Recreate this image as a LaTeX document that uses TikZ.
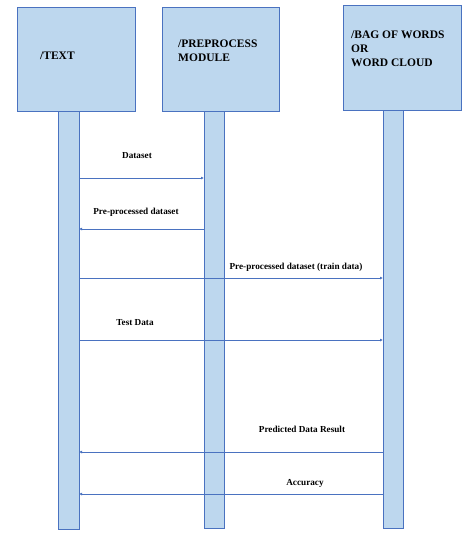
\documentclass[tikz,border=0pt]{standalone}
\usepackage{fontspec}
\setmainfont{Liberation Serif}
\usetikzlibrary{arrows.meta}
\definecolor{boxfill}{HTML}{BDD7EE}
\definecolor{boxline}{HTML}{4A72C0}
\definecolor{msgline}{HTML}{4A72C0}
\tikzset{
  actor/.style={draw=boxline, fill=boxfill, line width=0.8pt},
  life/.style={draw=boxline, fill=boxfill, line width=0.8pt},
  msg/.style={draw=msgline, line width=0.7pt, -{Latex[length=3pt,width=3pt]}},
  boxtext/.style={font=\bfseries\fontsize{11.5}{14}\selectfont, align=left, anchor=north west, inner sep=0pt},
  lbl/.style={font=\bfseries\fontsize{9.2}{10}\selectfont, inner sep=0pt}
}
\begin{document}
\begin{tikzpicture}[x=1pt,y=-1pt]
\useasboundingbox (0,0) rectangle (468,538);
% actor boxes
\path[actor] (17,7) rectangle (135,111);
\path[actor] (162,7) rectangle (279,111);
\path[actor] (343,5) rectangle (461,110);
\node[boxtext] (t1) at (40,52) {/TEXT};
\node[boxtext] (t2) at (178,40) {/PREPROCESS\\MODULE};
\node[boxtext] (t3) at (351,31) {/BAG OF WORDS\\OR\\WORD CLOUD};
% lifelines
\path[life] (58,111) rectangle (79,529);
\path[life] (204,111) rectangle (224,528);
\path[life] (383,110) rectangle (403,528);
\coordinate (a1) at (79,178);  \coordinate (b1) at (204,178);
\coordinate (a2) at (79,229);  \coordinate (b2) at (204,229);
\coordinate (a3) at (79,278);  \coordinate (c3) at (383,278);
\coordinate (a4) at (79,340);  \coordinate (c4) at (383,340);
\coordinate (a5) at (79,452);  \coordinate (c5) at (383,452);
\coordinate (a6) at (79,494);  \coordinate (c6) at (383,494);
\draw[msg] (a1) -- (b1);
\draw[msg] (b2) -- (a2);
\draw[msg] (a3) -- (c3);
\draw[msg] (a4) -- (c4);
\draw[msg] (c5) -- (a5);
\draw[msg] (c6) -- (a6);
\node[lbl] (l1) at (137,156) {Dataset};
\node[lbl] (l2) at (136,212) {Pre-processed dataset};
\node[lbl] (l3) at (296,267) {Pre-processed dataset (train data)};
\node[lbl] (l4) at (135,323) {Test Data};
\node[lbl] (l5) at (302,429) {Predicted Data Result};
\node[lbl] (l6) at (305,483) {Accuracy};
\end{tikzpicture}
\end{document}
